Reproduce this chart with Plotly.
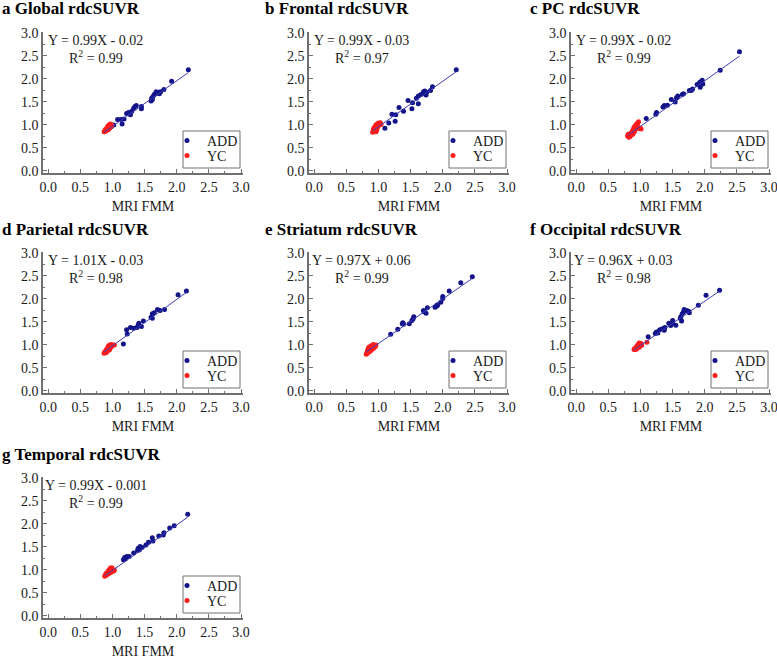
import plotly.graph_objects as go

# ---------------- data ----------------
panel_titles = ["a Global rdcSUVR", "b Frontal rdcSUVR", "c PC rdcSUVR",
                "d Parietal rdcSUVR", "e Striatum rdcSUVR", "f Occipital rdcSUVR",
                "g Temporal rdcSUVR"]
eq_labels = ["Y = 0.99X - 0.02", "Y = 0.99X - 0.03", "Y = 0.99X - 0.02",
             "Y = 1.01X - 0.03", "Y = 0.97X + 0.06", "Y = 0.96X + 0.03",
             "Y = 0.99X - 0.001"]
r2_labels = ["0.99", "0.97", "0.99", "0.98", "0.99", "0.98", "0.99"]
slopes = [0.99, 0.99, 0.99, 1.01, 0.97, 0.96, 0.99]
intercepts = [-0.02, -0.03, -0.02, -0.03, 0.06, 0.03, -0.001]
tick_vals = [0.0, 0.5, 1.0, 1.5, 2.0, 2.5, 3.0]
tick_text = ["0.0", "0.5", "1.0", "1.5", "2.0", "2.5", "3.0"]
series_names = ["ADD", "YC"]
x_label = "MRI FMM"

# a Global
global_add_x = [0.95, 0.98, 1.02, 1.08, 1.13, 1.15, 1.18, 1.22, 1.25, 1.28, 1.30, 1.33, 1.35, 1.37, 1.45,
                1.45, 1.60, 1.61, 1.62, 1.63, 1.65, 1.67, 1.68, 1.69, 1.72, 1.73, 1.75, 1.80, 1.92, 2.18]
global_add_y = [0.93, 0.96, 1.00, 1.12, 1.12, 1.02, 1.13, 1.25, 1.27, 1.22, 1.30, 1.36, 1.40, 1.42, 1.35,
                1.40, 1.52, 1.58, 1.55, 1.62, 1.66, 1.68, 1.72, 1.70, 1.71, 1.68, 1.72, 1.77, 1.95, 2.20]
global_yc_x = [0.87, 0.88, 0.89, 0.90, 0.90, 0.91, 0.92, 0.92, 0.93, 0.93, 0.94, 0.95, 0.95, 0.96, 0.96,
               0.97, 0.97, 0.98, 0.99, 0.91, 0.94, 0.89]
global_yc_y = [0.85, 0.87, 0.86, 0.88, 0.90, 0.92, 0.90, 0.95, 0.97, 0.93, 0.99, 1.00, 0.96, 1.01, 0.94,
               0.98, 1.02, 1.00, 0.99, 0.88, 0.90, 0.90]

# b Frontal
frontal_add_x = [1.10, 1.16, 1.21, 1.26, 1.27, 1.32, 1.39, 1.46, 1.52, 1.53, 1.59, 1.62, 1.62, 1.66, 1.70,
                 1.71, 1.72, 1.74, 1.75, 1.81, 1.84, 2.21]
frontal_add_y = [0.93, 1.04, 1.23, 1.08, 1.22, 1.38, 1.30, 1.53, 1.35, 1.48, 1.58, 1.63, 1.46, 1.66, 1.72,
                 1.68, 1.74, 1.65, 1.71, 1.75, 1.83, 2.20]
frontal_yc_x = [0.91, 0.92, 0.92, 0.93, 0.93, 0.94, 0.95, 0.95, 0.96, 0.96, 0.97, 0.98, 0.98, 0.99, 1.00,
                1.00, 1.01, 1.02, 1.03, 0.94, 0.97, 1.04]
frontal_yc_y = [0.84, 0.86, 0.90, 0.88, 0.93, 0.95, 0.90, 0.97, 0.85, 1.00, 0.95, 1.02, 0.92, 0.97, 1.04,
                0.99, 1.00, 1.03, 1.05, 0.86, 0.88, 1.01]

# c PC
pc_add_x = [1.09, 1.24, 1.25, 1.35, 1.37, 1.42, 1.48, 1.54, 1.56, 1.58, 1.65, 1.67, 1.76, 1.79, 1.81,
            1.88, 1.92, 1.93, 1.94, 1.96, 1.97, 2.24, 2.54]
pc_add_y = [1.14, 1.23, 1.27, 1.39, 1.42, 1.43, 1.55, 1.50, 1.59, 1.63, 1.66, 1.68, 1.75, 1.75, 1.78,
            1.88, 1.92, 1.82, 1.94, 1.97, 1.89, 2.19, 2.59]
pc_yc_x = [0.80, 0.81, 0.82, 0.83, 0.84, 0.85, 0.86, 0.87, 0.88, 0.88, 0.89, 0.90, 0.90, 0.92, 0.93,
           0.94, 0.95, 0.96, 0.97, 0.98, 1.00, 1.01, 0.91, 0.95, 0.97]
pc_yc_y = [0.76, 0.80, 0.73, 0.78, 0.75, 0.82, 0.79, 0.85, 0.88, 0.80, 0.90, 0.84, 0.95, 0.98, 0.92,
           1.02, 0.96, 1.05, 1.07, 0.92, 0.93, 0.91, 0.87, 1.00, 0.94]

# d Parietal
parietal_add_x = [1.17, 1.22, 1.23, 1.28, 1.33, 1.38, 1.40, 1.41, 1.45, 1.48, 1.60, 1.62, 1.62, 1.65,
                  1.70, 1.74, 1.81, 2.02, 2.15]
parietal_add_y = [1.02, 1.33, 1.24, 1.38, 1.36, 1.38, 1.43, 1.47, 1.40, 1.52, 1.60, 1.58, 1.68, 1.70,
                  1.77, 1.75, 1.77, 2.09, 2.17]
parietal_yc_x = [0.87, 0.88, 0.89, 0.90, 0.90, 0.91, 0.92, 0.92, 0.93, 0.94, 0.94, 0.95, 0.96, 0.96,
                 0.97, 0.98, 0.99, 1.00, 1.03, 0.91, 0.95, 0.97]
parietal_yc_y = [0.82, 0.84, 0.86, 0.83, 0.88, 0.90, 0.87, 0.92, 0.95, 0.93, 0.98, 0.96, 1.00, 0.91,
                 0.99, 1.01, 0.97, 1.00, 1.00, 0.85, 0.89, 0.95]

# e Striatum
striatum_add_x = [1.19, 1.30, 1.37, 1.38, 1.39, 1.48, 1.52, 1.54, 1.55, 1.70, 1.71, 1.74, 1.76, 1.88,
                  1.90, 1.91, 1.92, 1.97, 2.00, 2.00, 2.10, 2.28, 2.46]
striatum_add_y = [1.23, 1.34, 1.46, 1.48, 1.45, 1.46, 1.53, 1.57, 1.61, 1.75, 1.72, 1.69, 1.81, 1.82,
                  1.84, 1.87, 1.86, 1.93, 2.01, 2.05, 2.17, 2.35, 2.48]
striatum_yc_x = [0.81, 0.82, 0.83, 0.84, 0.85, 0.86, 0.87, 0.87, 0.88, 0.89, 0.90, 0.90, 0.91, 0.92,
                 0.92, 0.93, 0.94, 0.95, 0.96, 0.83, 0.85, 0.88]
striatum_yc_y = [0.80, 0.83, 0.88, 0.91, 0.85, 0.90, 0.96, 0.86, 0.93, 0.89, 0.99, 0.94, 0.97, 1.01,
                 0.92, 0.95, 0.98, 0.96, 1.00, 0.82, 0.95, 0.97]

# f Occipital
occipital_add_x = [1.12, 1.23, 1.25, 1.27, 1.30, 1.34, 1.37, 1.38, 1.44, 1.47, 1.50, 1.50, 1.55, 1.62,
                   1.63, 1.64, 1.65, 1.67, 1.68, 1.72, 1.75, 1.76, 1.90, 2.02, 2.23]
occipital_add_y = [1.18, 1.25, 1.28, 1.26, 1.33, 1.35, 1.32, 1.38, 1.47, 1.42, 1.47, 1.53, 1.43, 1.58,
                   1.62, 1.52, 1.68, 1.72, 1.77, 1.75, 1.73, 1.70, 1.86, 2.08, 2.19]
occipital_yc_x = [0.90, 0.91, 0.92, 0.93, 0.94, 0.95, 0.95, 0.96, 0.97, 0.97, 0.98, 0.98, 0.99, 1.00,
                  1.00, 1.01, 1.02, 1.10, 0.93, 0.96]
occipital_yc_y = [0.90, 0.92, 0.91, 0.94, 0.96, 0.93, 0.98, 1.00, 0.97, 1.02, 0.95, 1.04, 1.00, 1.02,
                  0.98, 1.03, 1.00, 1.06, 0.90, 0.95]

# g Temporal
temporal_add_x = [1.17, 1.19, 1.20, 1.22, 1.26, 1.33, 1.39, 1.40, 1.42, 1.43, 1.46, 1.52, 1.56, 1.62,
                  1.63, 1.72, 1.79, 1.80, 1.89, 1.96, 2.17]
temporal_add_y = [1.22, 1.27, 1.24, 1.29, 1.29, 1.37, 1.42, 1.47, 1.44, 1.51, 1.49, 1.54, 1.60, 1.70,
                  1.63, 1.74, 1.76, 1.81, 1.91, 1.96, 2.21]
temporal_yc_x = [0.88, 0.89, 0.90, 0.90, 0.91, 0.92, 0.93, 0.94, 0.94, 0.95, 0.96, 0.96, 0.97, 0.98,
                 0.99, 1.00, 1.01, 1.02, 1.03, 0.97, 0.93]
temporal_yc_y = [0.86, 0.89, 0.88, 0.92, 0.90, 0.94, 0.96, 0.92, 0.98, 1.00, 0.96, 1.02, 1.04, 0.98,
                 1.05, 1.00, 0.97, 0.98, 1.00, 0.94, 0.91]

add_x = [global_add_x, frontal_add_x, pc_add_x, parietal_add_x, striatum_add_x, occipital_add_x, temporal_add_x]
add_y = [global_add_y, frontal_add_y, pc_add_y, parietal_add_y, striatum_add_y, occipital_add_y, temporal_add_y]
yc_x = [global_yc_x, frontal_yc_x, pc_yc_x, parietal_yc_x, striatum_yc_x, occipital_yc_x, temporal_yc_x]
yc_y = [global_yc_y, frontal_yc_y, pc_yc_y, parietal_yc_y, striatum_yc_y, occipital_yc_y, temporal_yc_y]

# ---------------- style / layout ----------------
W, H = 777, 659
SERIF = "Liberation Serif, Times New Roman, serif"
ADD_COLOR = "#14148a"
YC_COLOR = "#ff1c1c"
LINE_COLOR = "#3c3cb4"
AXIS_COLOR = "#707070"
TEXT_COLOR = "#1a1a1a"

col_left = [43, 309, 571]
row_top = [32, 252, 477]
plot_w, plot_h = 200, 141
title_x = [0, 263, 528]
title_dy = -23
positions = [(0, 0), (0, 1), (0, 2), (1, 0), (1, 1), (1, 2), (2, 0)]

# legend box geometry relative to plot area (px)
box_l, box_r, box_t, box_b = 140, 197, 99, 136
item_dy = [109, 124]
legend_dx = -1

fig = go.Figure()
layout = dict(width=W, height=H, margin=dict(l=0, r=0, t=0, b=0),
              paper_bgcolor="white", plot_bgcolor="white",
              font=dict(family=SERIF, size=14, color=TEXT_COLOR),
              annotations=[], shapes=[], showlegend=True)

for i, (r, c) in enumerate(positions):
    sfx = "" if i == 0 else str(i + 1)
    xa, ya = "x" + sfx, "y" + sfx
    left, top = col_left[c], row_top[r]
    dom_x = [left / W, (left + plot_w) / W]
    dom_y = [1 - (top + plot_h) / H, 1 - top / H]
    lg_names = ["legend" + ("" if 2 * i == 0 else str(2 * i + 1)), "legend" + str(2 * i + 2)]

    fig.add_trace(go.Scatter(x=add_x[i], y=add_y[i], mode="markers", name=series_names[0],
                             marker=dict(color=ADD_COLOR, size=5), xaxis=xa, yaxis=ya, legend=lg_names[0]))
    fig.add_trace(go.Scatter(x=yc_x[i], y=yc_y[i], mode="markers", name=series_names[1],
                             marker=dict(color=YC_COLOR, size=5), xaxis=xa, yaxis=ya, legend=lg_names[1]))
    allx = add_x[i] + yc_x[i]
    lx = [min(allx), max(allx)]
    ly = [slopes[i] * v + intercepts[i] for v in lx]
    fig.add_trace(go.Scatter(x=lx, y=ly, mode="lines", line=dict(color=LINE_COLOR, width=1),
                             showlegend=False, xaxis=xa, yaxis=ya, hoverinfo="skip"))

    common = dict(showline=True, linecolor=AXIS_COLOR, linewidth=1.5, ticks="inside", ticklen=4,
                  tickwidth=1, tickcolor=AXIS_COLOR, tickvals=tick_vals, ticktext=tick_text,
                  showgrid=False, zeroline=False, mirror=False, ticklabeloverflow="allow",
                  tickfont=dict(family=SERIF, size=14, color=TEXT_COLOR),
                  minor=dict(ticks="inside", ticklen=2, tickcolor=AXIS_COLOR, dtick=0.25, tick0=0,
                             showgrid=False))
    layout["xaxis" + sfx] = dict(domain=dom_x, anchor=ya, range=[-0.08, 3.03],
                                 title=dict(text=x_label, standoff=8,
                                            font=dict(family=SERIF, size=14, color=TEXT_COLOR)),
                                 automargin=False, **common)
    layout["yaxis" + sfx] = dict(domain=dom_y, anchor=xa, range=[-0.045, 3.02], automargin=False, **common)

    for k in range(2):
        layout[lg_names[k]] = dict(x=(left + box_l + legend_dx) / W, y=1 - (top + item_dy[k]) / H,
                                   xanchor="left", yanchor="middle",
                                   bgcolor="rgba(0,0,0,0)", borderwidth=0,
                                   font=dict(family=SERIF, size=14, color=TEXT_COLOR),
                                   itemwidth=30, tracegroupgap=0, indentation=-15)

    layout["shapes"].append(dict(type="rect", xref="paper", yref="paper",
                                 x0=(left + box_l) / W, x1=(left + box_r) / W,
                                 y0=1 - (top + box_b) / H, y1=1 - (top + box_t) / H,
                                 line=dict(color=AXIS_COLOR, width=1), fillcolor="rgba(0,0,0,0)"))

    layout["annotations"].append(dict(text="<b>" + panel_titles[i] + "</b>", xref="paper", yref="paper",
                                      x=title_x[c] / W, y=1 - (top + title_dy) / H, xanchor="left",
                                      yanchor="middle", showarrow=False,
                                      font=dict(family=SERIF, size=17, color="#000000")))
    layout["annotations"].append(dict(text=eq_labels[i], xref=xa, yref=ya, x=0.74, y=2.84,
                                      xanchor="center", yanchor="middle", showarrow=False,
                                      font=dict(family=SERIF, size=14, color=TEXT_COLOR)))
    layout["annotations"].append(dict(text="R<sup>2</sup> = " + r2_labels[i], xref=xa, yref=ya,
                                      x=0.74, y=2.48, xanchor="center", yanchor="middle",
                                      showarrow=False,
                                      font=dict(family=SERIF, size=14, color=TEXT_COLOR)))

fig.update_layout(**layout)
fig.write_html("out.html", config={"displayModeBar": False},
               post_script="document.body.style.margin='0px';")
